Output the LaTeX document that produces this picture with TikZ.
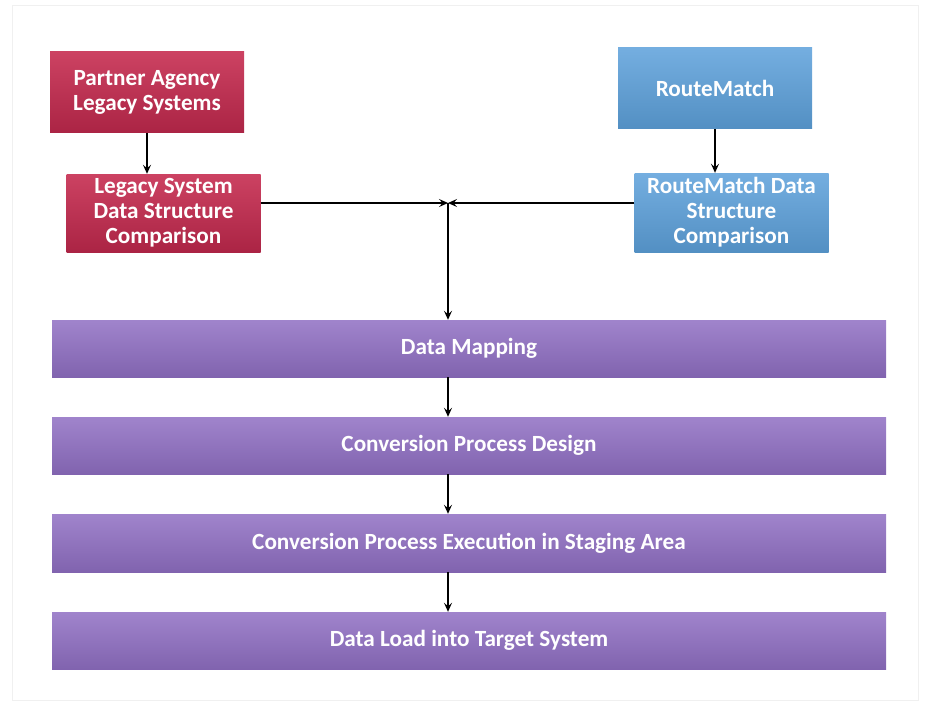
\documentclass[tikz,border=0pt]{standalone}
\usepackage{fontspec}
\setmainfont{Carlito}
\usetikzlibrary{arrows.meta}
\definecolor{legacyred}{RGB}{190,40,76}
\definecolor{legacytop}{RGB}{204,66,98}
\definecolor{rmblue}{RGB}{90,156,212}
\definecolor{rmtop}{RGB}{116,174,224}
\definecolor{stepviolet}{RGB}{140,108,190}
\definecolor{steptop}{RGB}{160,132,204}
\tikzset{
  boxtext/.style={text=white, font=\fontsize{23.2}{25}\selectfont\bfseries, align=center, inner sep=0pt},
  redbox/.style={boxtext, top color=legacytop, bottom color=legacyred!90!black, minimum width=194pt},
  bluebox/.style={boxtext, top color=rmtop, bottom color=rmblue!92!black, minimum width=194pt},
  stagebar/.style={boxtext, top color=steptop, bottom color=stepviolet!92!black, minimum width=834pt, minimum height=57pt},
  arr/.style={line width=1.6pt, -{Stealth[length=9pt,width=8pt,inset=3.5pt]}}
}

\begin{document}
\begin{tikzpicture}[x=1pt, y=-1pt]
		%%%%% START %%%%%
		\useasboundingbox (0,0) rectangle (926,706);
		\draw[black!6, line width=1pt] (12,6) rectangle (918,700);
		
		% source systems
		\node (legacy) [redbox, minimum height=81pt] at (147,92.5) {Partner Agency\\Legacy Systems};
		\node (legcmp) [redbox, minimum height=78pt] at (163.5,213) {Legacy System\\Data Structure\\Comparison};
		\node (rm) [bluebox, minimum height=81pt] at (715,88.5) {RouteMatch};
		\node (rmcmp) [bluebox, minimum height=79pt] at (731.5,212.5) {RouteMatch Data\\Structure\\Comparison};
		
		% conversion steps
		\node (map) [stagebar] at (469,348.5) {Data Mapping};
		\node (design) [stagebar] at (469,445.5) {Conversion Process Design};
		\node (exec) [stagebar, minimum height=58pt] at (469,543) {Conversion Process Execution in Staging Area};
		\node (load) [stagebar] at (469,640.5) {Data Load into Target System};
		
		\coordinate (hub) at (448,203);
		
		\draw[arr] (legacy.south) -- (legacy.south |- legcmp.north);
		\draw[arr] (rm.south) -- (rm.south |- rmcmp.north);
		\draw[arr] (legcmp.east |- hub) -- (hub);
		\draw[arr] (rmcmp.west |- hub) -- (hub);
		\draw[arr] (hub) -- (hub |- map.north);
		\draw[arr] (hub |- map.south) -- (hub |- design.north);
		\draw[arr] (hub |- design.south) -- (hub |- exec.north);
		\draw[arr] (hub |- exec.south) -- (hub |- load.north);
		
		%%%%% END %%%%%
	\end{tikzpicture}
\end{document}
